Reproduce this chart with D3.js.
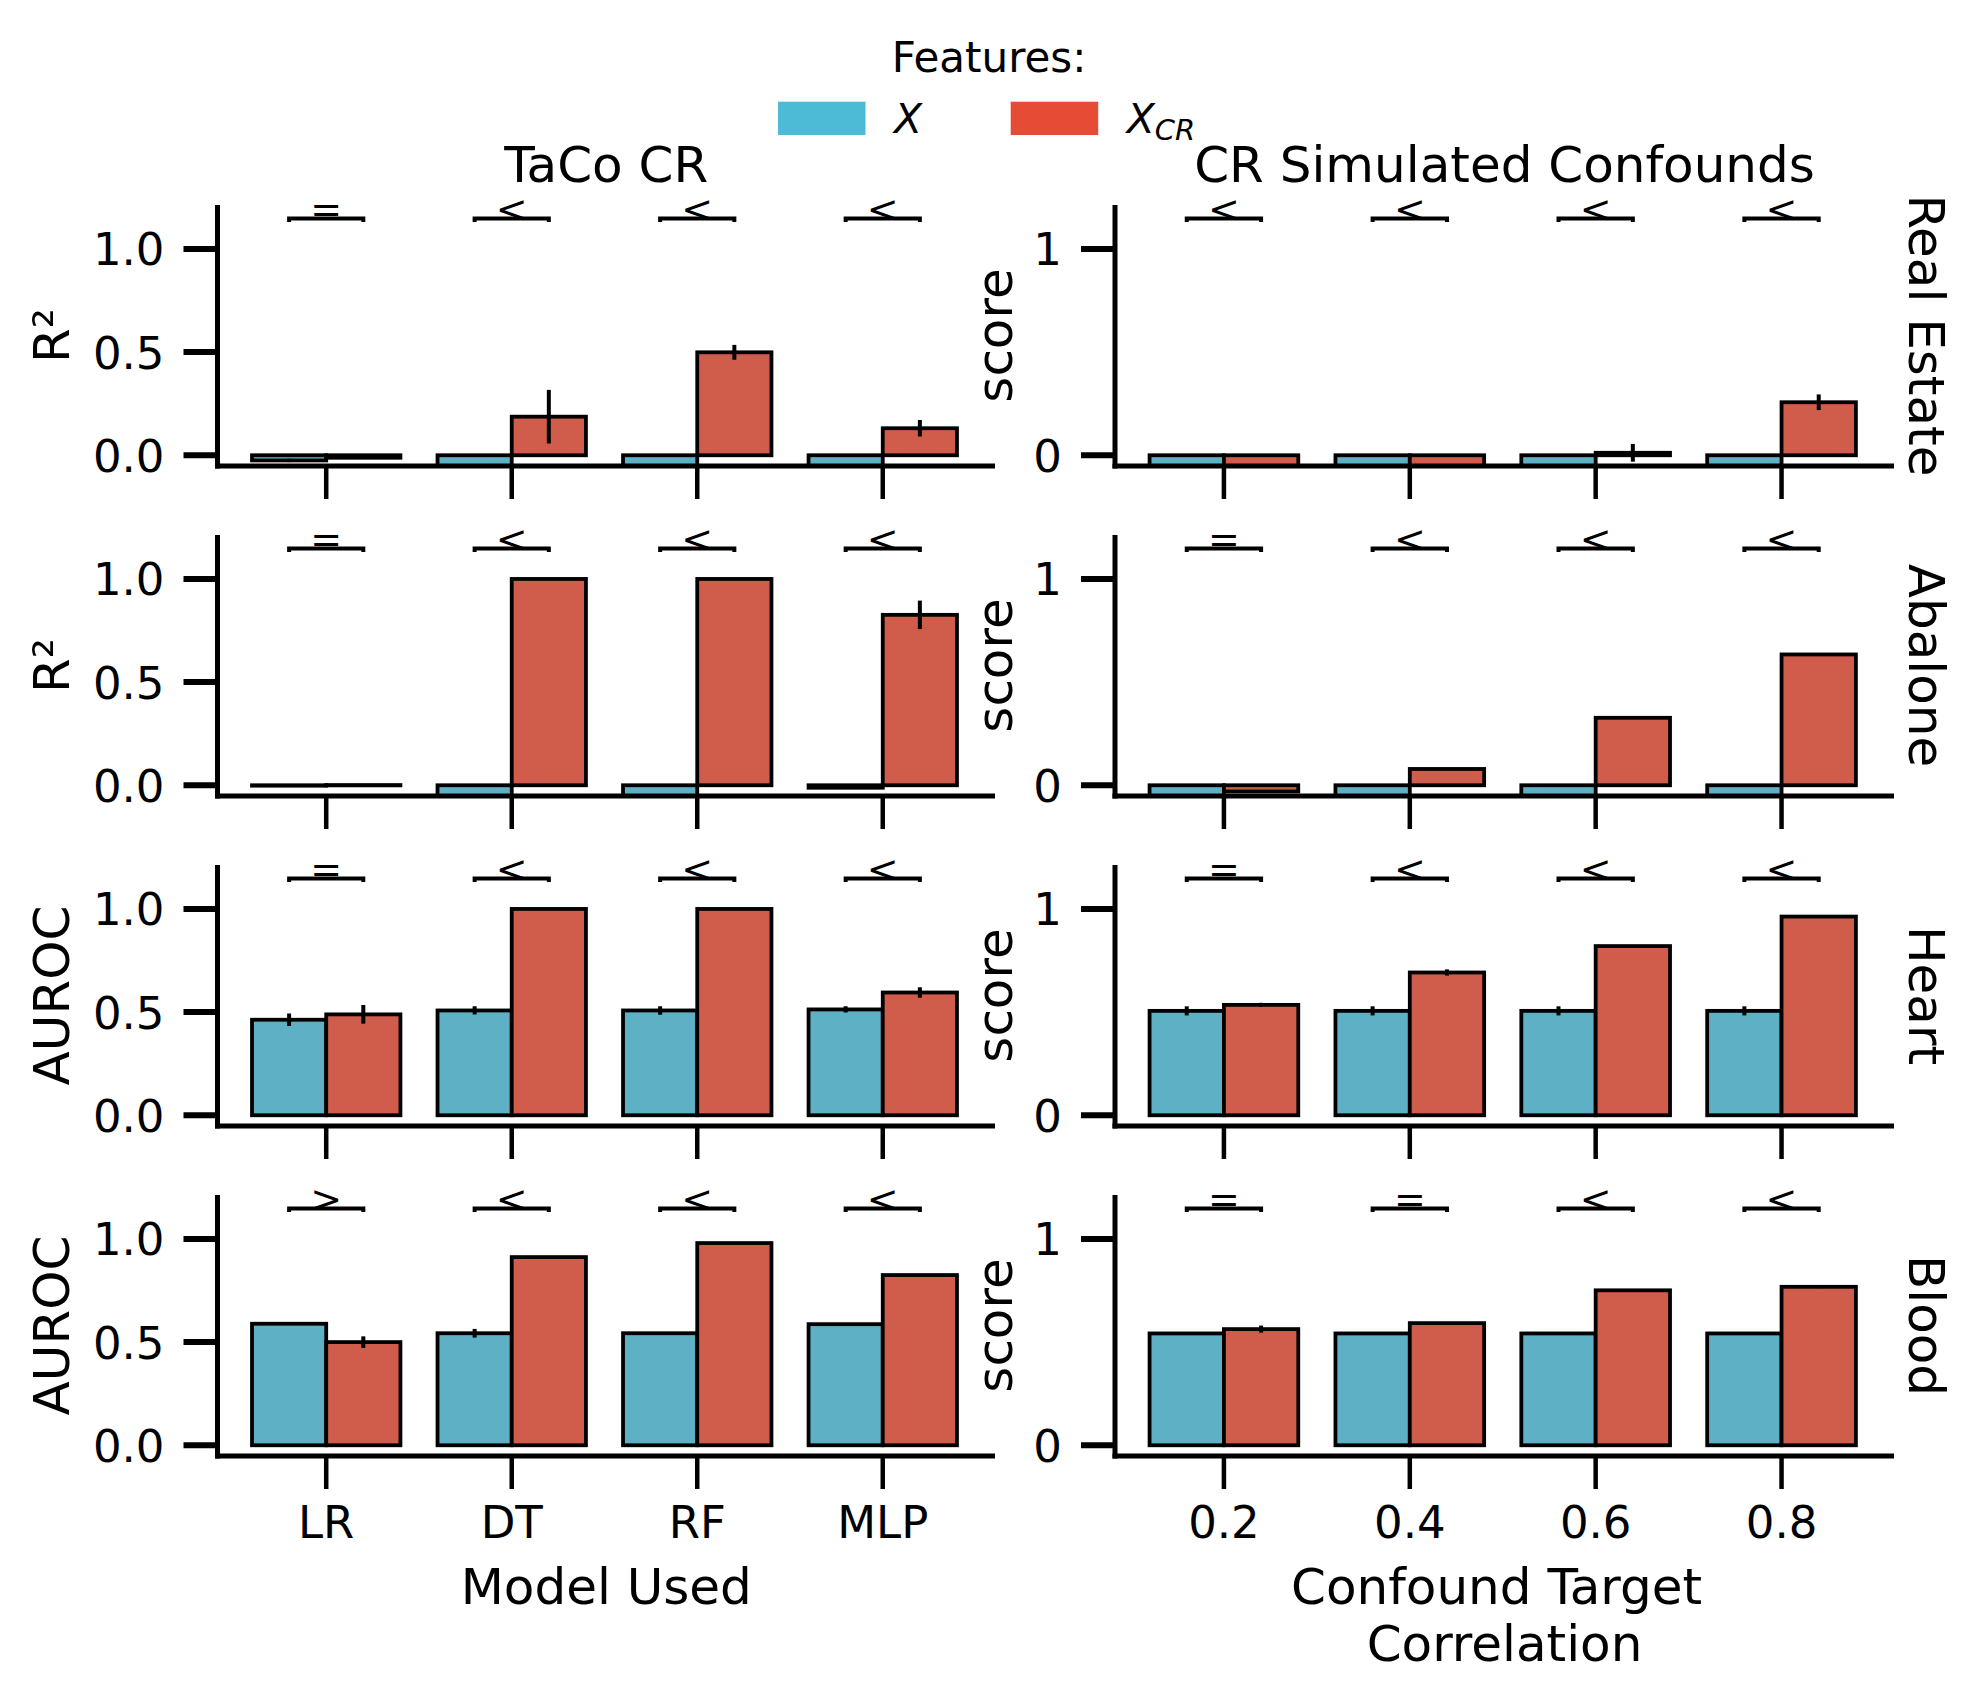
<!DOCTYPE html>
<html>
<head>
<meta charset="utf-8">
<script src="https://cdn.jsdelivr.net/npm/d3@7"></script>
<style>
  html, body { margin: 0; padding: 0; background: #ffffff; }
  svg text { font-family: "DejaVu Sans", sans-serif; fill: #000; }
</style>
</head>
<body>
<svg id="chart" width="1979" height="1700"></svg>
<script>
// ---------------- DATA ----------------
const datasets = ["Real Estate", "Abalone", "Heart", "Blood"];
const models = ["LR", "DT", "RF", "MLP"];
const correlations = ["0.2", "0.4", "0.6", "0.8"];
const leftYLabels = ["R²", "R²", "AUROC", "AUROC"];
const rightYLabel = "score";
const colTitles = ["TaCo CR", "CR Simulated Confounds"];
const xAxisLabels = [["Model Used"], ["Confound Target ", "Correlation"]];
const leftTickValues = [0, 0.5, 1.0];
const leftTickLabels = ["0.0", "0.5", "1.0"];
const rightTickValues = [0, 1];
const rightTickLabels = ["0", "1"];
const seriesNames = ["X", "X_CR"];

// TaCo CR panel values (rows = datasets, cols = models)
const tacoX = [
  [-0.025, -0.5, -0.5, -0.5],
  [-0.002, -0.5, -0.5, -0.012],
  [0.463, 0.508, 0.508, 0.513],
  [0.589, 0.543, 0.543, 0.587]
];
const tacoXErr = [
  [0.008, 0, 0, 0],
  [0, 0, 0, 0.002],
  [0.03, 0.02, 0.021, 0.015],
  [0.003, 0.021, 0.005, 0.003]
];
const tacoXCR = [
  [-0.012, 0.187, 0.499, 0.131],
  [0.001, 1.0, 1.0, 0.826],
  [0.489, 1.0, 1.0, 0.595],
  [0.5, 0.912, 0.98, 0.825]
];
const tacoXCRErr = [
  [0.004, 0.13, 0.036, 0.04],
  [0, 0.001, 0.001, 0.069],
  [0.045, 0.001, 0.001, 0.025],
  [0.028, 0.003, 0.002, 0.004]
];
// Simulated confounds panel values (rows = datasets, cols = correlations)
const simX = [
  [-0.5, -0.5, -0.5, -0.5],
  [-0.5, -0.5, -0.5, -0.5],
  [0.506, 0.506, 0.506, 0.506],
  [0.542, 0.542, 0.542, 0.542]
];
const simXErr = [
  [0, 0, 0, 0],
  [0, 0, 0, 0],
  [0.022, 0.022, 0.022, 0.022],
  [0.005, 0.005, 0.005, 0.005]
];
const simXCR = [
  [-0.5, -0.5, 0.012, 0.257],
  [-0.03, 0.079, 0.327, 0.634],
  [0.535, 0.692, 0.82, 0.963],
  [0.563, 0.592, 0.751, 0.768]
];
const simXCRErr = [
  [0, 0, 0.043, 0.038],
  [0.002, 0.002, 0.002, 0.002],
  [0.01, 0.015, 0.003, 0.003],
  [0.017, 0.003, 0.004, 0.006]
];
// significance symbols
const tacoSig = [
  ["=", "<", "<", "<"],
  ["=", "<", "<", "<"],
  ["=", "<", "<", "<"],
  [">", "<", "<", "<"]
];
const simSig = [
  ["<", "<", "<", "<"],
  ["=", "<", "<", "<"],
  ["=", "<", "<", "<"],
  ["=", "=", "<", "<"]
];
const bracketLevel = 1.147;

// ---------------- STYLE / LAYOUT ----------------
const legendColors = ["#4DBBD5", "#E64B35"];
const barColors = ["#5EB0C4", "#D05C4B"];
const colX0 = [217.5, 1115];
const colX1 = [995, 1894];
const rowTop0 = 205, rowBottom0 = 466, rowStep = 330;
const xDomain = [-0.586, 3.605];
const yDomain = [-0.052, 1.213];
const barW = 0.4;
const labelFont = "50px";
const tickFont = "45px";

const svg = d3.select("#chart");

const columns = [
  { cats: models, X: tacoX, XE: tacoXErr, C: tacoXCR, CE: tacoXCRErr, sig: tacoSig,
    ticks: leftTickValues, tickLabels: leftTickLabels },
  { cats: correlations, X: simX, XE: simXErr, C: simXCR, CE: simXCRErr, sig: simSig,
    ticks: rightTickValues, tickLabels: rightTickLabels }
];

const defs = svg.append("defs");

columns.forEach((col, ci) => {
  const x = d3.scaleLinear().domain(xDomain).range([colX0[ci], colX1[ci]]);
  datasets.forEach((ds, ri) => {
    const top = rowTop0 + rowStep * ri;
    const bottom = rowBottom0 + rowStep * ri;
    const y = d3.scaleLinear().domain(yDomain).range([bottom, top]);
    const g = svg.append("g");
    const clipId = `clip-${ci}-${ri}`;
    defs.append("clipPath").attr("id", clipId)
      .append("rect")
      .attr("x", colX0[ci]).attr("y", top - 40)
      .attr("width", colX1[ci] - colX0[ci]).attr("height", bottom - top + 40);

    const plot = g.append("g").attr("clip-path", `url(#${clipId})`);

    const series = [
      { vals: col.X[ri], errs: col.XE[ri], off: -barW, color: barColors[0] },
      { vals: col.C[ri], errs: col.CE[ri], off: 0, color: barColors[1] }
    ];
    series.forEach(s => {
      plot.selectAll(null).data(s.vals.map((v, i) => ({ v, i })))
        .enter().append("rect")
        .attr("x", d => x(d.i + s.off))
        .attr("width", d => x(d.i + s.off + barW) - x(d.i + s.off))
        .attr("y", d => Math.min(y(d.v), y(0)))
        .attr("height", d => Math.max(Math.abs(y(d.v) - y(0)), 0.3))
        .attr("fill", s.color)
        .attr("stroke", "#000")
        .attr("stroke-width", 3.8);
    });
    series.forEach(s => {
      plot.selectAll(null).data(s.vals.map((v, i) => ({ v, e: s.errs[i], i })).filter(d => d.e > 0))
        .enter().append("line")
        .attr("x1", d => x(d.i + s.off + barW / 2))
        .attr("x2", d => x(d.i + s.off + barW / 2))
        .attr("y1", d => y(d.v - d.e))
        .attr("y2", d => y(d.v + d.e))
        .attr("stroke", "#000")
        .attr("stroke-width", 4);
    });

    // significance brackets
    col.sig[ri].forEach((sym, i) => {
      const by = y(bracketLevel);
      const xa = x(i - barW / 2), xb = x(i + barW / 2);
      g.append("path")
        .attr("d", `M${xa},${by + 3.5}L${xa},${by}L${xb},${by}L${xb},${by + 3.5}`)
        .attr("fill", "none").attr("stroke", "#000").attr("stroke-width", 4);
      g.append("text")
        .attr("x", x(i)).attr("y", by + 3)
        .attr("text-anchor", "middle")
        .style("font-size", "38px")
        .text(sym);
    });

    // spines
    g.append("line")
      .attr("x1", colX0[ci]).attr("x2", colX0[ci])
      .attr("y1", top + 2.5).attr("y2", bottom)
      .attr("stroke", "#000").attr("stroke-width", 5).attr("stroke-linecap", "square");
    g.append("line")
      .attr("x1", colX0[ci]).attr("x2", colX1[ci] - 2.5)
      .attr("y1", bottom).attr("y2", bottom)
      .attr("stroke", "#000").attr("stroke-width", 5).attr("stroke-linecap", "square");

    // y ticks
    col.ticks.forEach((t, k) => {
      g.append("line")
        .attr("x1", colX0[ci] - 34).attr("x2", colX0[ci])
        .attr("y1", y(t)).attr("y2", y(t))
        .attr("stroke", "#000").attr("stroke-width", 6);
      g.append("text")
        .attr("x", colX0[ci] - 53).attr("y", y(t) + 16.4)
        .attr("text-anchor", "end")
        .style("font-size", tickFont)
        .text(col.tickLabels[k]);
    });
    // x ticks
    col.cats.forEach((c, i) => {
      g.append("line")
        .attr("x1", x(i)).attr("x2", x(i))
        .attr("y1", bottom).attr("y2", bottom + 33)
        .attr("stroke", "#000").attr("stroke-width", 4.5);
      if (ri === datasets.length - 1) {
        g.append("text")
          .attr("x", x(i)).attr("y", bottom + 82)
          .attr("text-anchor", "middle")
          .style("font-size", tickFont)
          .text(c);
      }
    });

    // y labels
    const cy = (top + bottom) / 2;
    if (ci === 0) {
      g.append("text")
        .attr("transform", `translate(69,${cy}) rotate(-90)`)
        .attr("text-anchor", "middle")
        .style("font-size", labelFont)
        .text(leftYLabels[ri]);
    } else {
      g.append("text")
        .attr("transform", `translate(1012,${cy}) rotate(-90)`)
        .attr("text-anchor", "middle")
        .style("font-size", labelFont)
        .text(rightYLabel);
      g.append("text")
        .attr("transform", `translate(1909,${cy}) rotate(90)`)
        .attr("text-anchor", "middle")
        .style("font-size", labelFont)
        .text(ds);
    }
  });

  // column titles
  const cx = (colX0[ci] + colX1[ci]) / 2;
  svg.append("text")
    .attr("x", cx).attr("y", 182)
    .attr("text-anchor", "middle")
    .style("font-size", labelFont)
    .text(colTitles[ci]);
  // x axis labels
  xAxisLabels[ci].forEach((line, li) => {
    svg.append("text")
      .attr("x", cx).attr("y", 1604 + li * 57)
      .attr("text-anchor", "middle")
      .attr("xml:space", "preserve")
      .style("white-space", "pre")
      .style("font-size", labelFont)
      .text(line);
  });
});

// ---------------- LEGEND ----------------
const legend = svg.append("g");
legend.append("text")
  .attr("x", 989).attr("y", 72)
  .attr("text-anchor", "middle")
  .style("font-size", "42px")
  .text("Features:");
const legendItems = [
  { x: 778, color: legendColors[0], name: seriesNames[0] },
  { x: 1010.7, color: legendColors[1], name: seriesNames[1] }
];
legendItems.forEach(it => {
  legend.append("rect")
    .attr("x", it.x).attr("y", 101.7)
    .attr("width", 87.5).attr("height", 33.3)
    .attr("fill", it.color);
  const parts = it.name.split("_");
  const t = legend.append("text")
    .attr("x", it.x + 116).attr("y", 132.7)
    .style("font-size", "41px")
    .style("font-style", "italic");
  t.append("tspan").text(parts[0]);
  if (parts[1]) {
    t.append("tspan")
      .attr("dy", 7)
      .style("font-size", "29px")
      .text(parts[1]);
  }
});
</script>
</body>
</html>
